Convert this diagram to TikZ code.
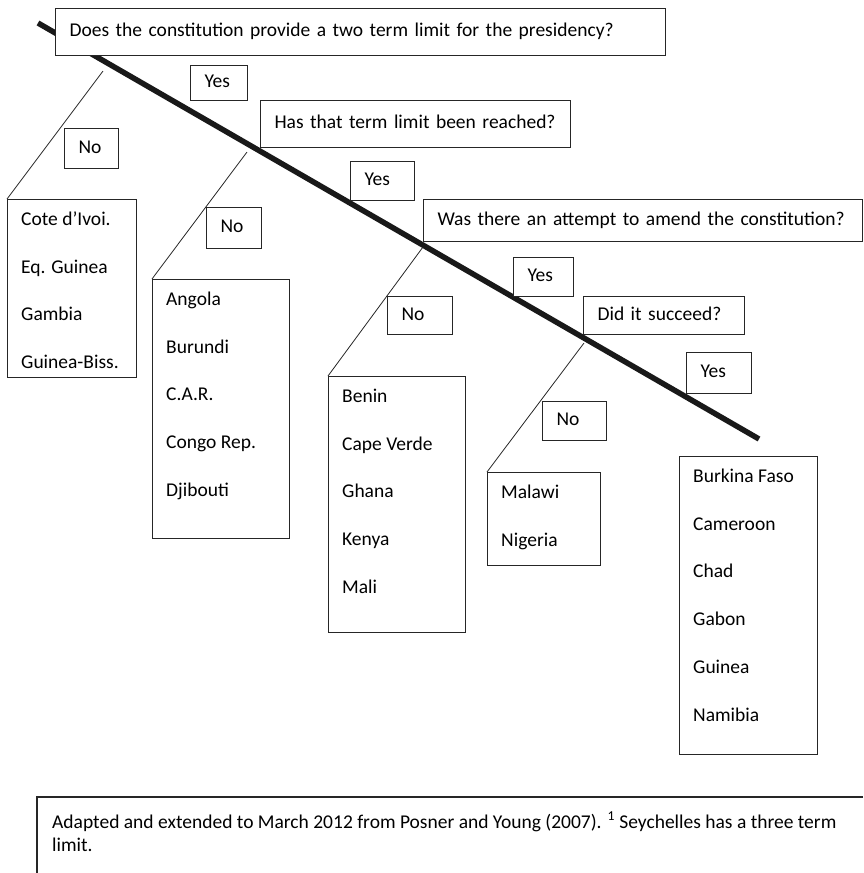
\documentclass[tikz,border=0pt]{standalone}
\usepackage{fontspec}
\setmainfont{Carlito}
\usetikzlibrary{calc}

\tikzset{
  qbox/.style n args={2}{draw=black!85, line width=1.1pt, fill=white, anchor=north west,
    inner xsep=14pt, inner ysep=0pt, text width=#1, minimum height=#2, align=left,
    text height=13pt, text depth=4pt},
  listbox/.style={draw=black!85, line width=1.1pt, anchor=north west, inner sep=0pt},
  item/.style={anchor=base west, inner sep=0pt},
  spine/.style={line width=5.5pt, black!90},
  branch/.style={line width=0.8pt, black!85}
}

\begin{document}
\begin{tikzpicture}[x=1pt, y=-1pt, font=\fontsize{19.5}{23}\selectfont]
  \useasboundingbox (0,0) rectangle (863,873);

  % main "yes" line
  \coordinate (s0) at (38,23);
  \coordinate (s1) at (759,439);
  \draw[spine] (s0) -- (s1);

  % questions
  \node[qbox={582pt}{47pt}] (q1) at (55,8) {Does the constitution provide a two term limit for the presidency?};
  \node[qbox={282pt}{47pt}] (q2) at (260,100) {Has that term limit been reached?};
  \node[qbox={411pt}{42pt}] (q3) at (423,199) {Was there an attempt to amend the constitution?};
  \node[qbox={133pt}{38pt}] (q4) at (583,296) {Did it succeed?};

  % answers
  \node[qbox={29pt}{35pt}] (yes1) at (190,65) {Yes};
  \node[qbox={36pt}{39pt}] (yes2) at (350,161) {Yes};
  \node[qbox={32pt}{39pt}] (yes3) at (513,257) {Yes};
  \node[qbox={37pt}{41pt}] (yes4) at (686,352) {Yes};
  \node[qbox={26pt}{40pt}] (no1) at (64,128) {No};
  \node[qbox={27pt}{41pt}] (no2) at (206,207) {No};
  \node[qbox={37pt}{38pt}] (no3) at (387,296) {No};
  \node[qbox={36pt}{39pt}] (no4) at (542,401) {No};

  % country lists
  \node[listbox, minimum width=129pt, minimum height=178pt] (list1) at (7,199) {};
  \node[listbox, minimum width=137pt, minimum height=259pt] (list2) at (152,279) {};
  \node[listbox, minimum width=137pt, minimum height=256pt] (list3) at (328,376) {};
  \node[listbox, minimum width=113pt, minimum height=93pt] (list4) at (487,472) {};
  \node[listbox, minimum width=138pt, minimum height=298pt] (list5) at (679,456) {};

  \foreach \s [count=\i from 0] in {Cote d’Ivoi., Eq. Guinea, Gambia, Guinea-Biss.}
    \node[item] at ($(list1.north west)+(14,26.5+47.7*\i)$) {\s};
  \foreach \s [count=\i from 0] in {Angola, Burundi, C.A.R., Congo Rep., Djibouti}
    \node[item] at ($(list2.north west)+(14,26.5+47.7*\i)$) {\s};
  \foreach \s [count=\i from 0] in {Benin, Cape Verde, Ghana, Kenya, Mali}
    \node[item] at ($(list3.north west)+(14,26.5+47.7*\i)$) {\s};
  \foreach \s [count=\i from 0] in {Malawi, Nigeria}
    \node[item] at ($(list4.north west)+(14,26.5+47.7*\i)$) {\s};
  \foreach \s [count=\i from 0] in {Burkina Faso, Cameroon, Chad, Gabon, Guinea, Namibia}
    \node[item] at ($(list5.north west)+(14,26.5+47.7*\i)$) {\s};

  % "no" branches
  \coordinate (c1) at (103,71);
  \coordinate (c2) at (247,152);
  \coordinate (c3) at (423,247);
  \coordinate (c4) at (584,343);
  \draw[branch] (c1) -- (list1.north west);
  \draw[branch] (c2) -- (list2.north west);
  \draw[branch] (c3) -- (list3.north west);
  \draw[branch] (c4) -- (list4.north west);

  % source note
  \draw[draw=black!85, line width=1.1pt] (863,797) -- (37,797) -- (37,873);
  \node[item, align=left] (note) at (52,851) {Adapted and extended to March 2012 from Posner and Young (2007). \textsuperscript{1} Seychelles has a three term\\limit.};
\end{tikzpicture}
\end{document}
